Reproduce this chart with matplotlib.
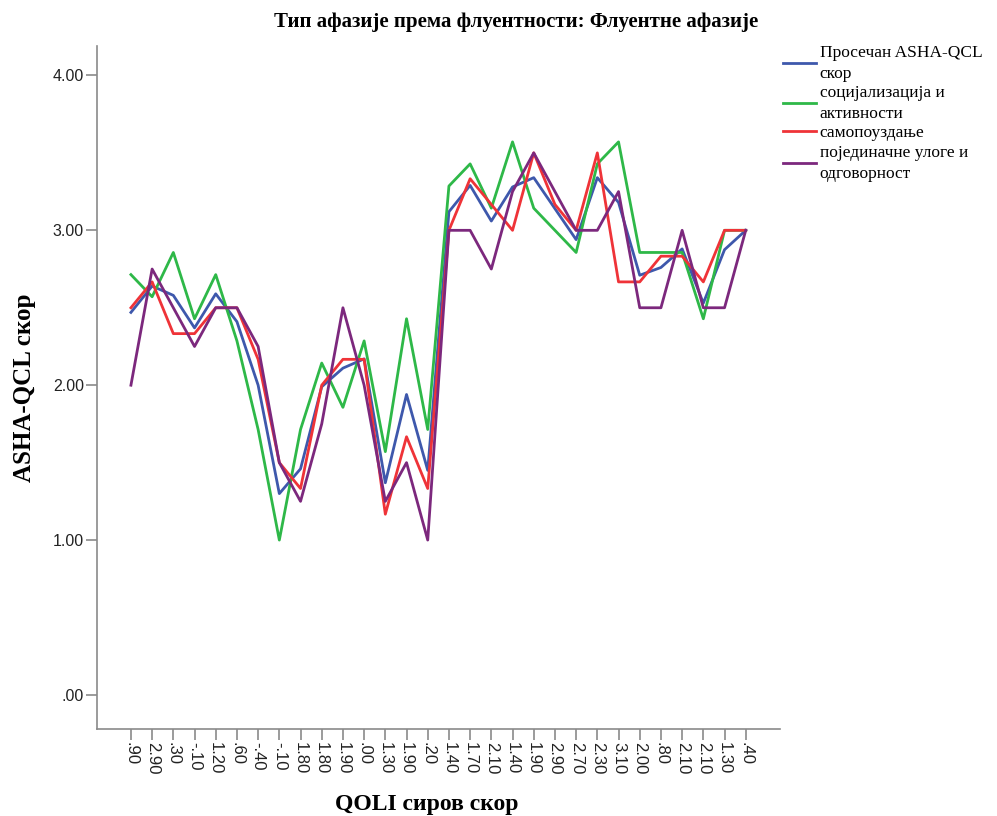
import matplotlib
matplotlib.use('Agg')
import matplotlib.pyplot as plt
from matplotlib.ticker import FuncFormatter

# QOLI raw score categories (x axis, in the order shown)
qoli_labels = ['.90', '2.90', '.30', '-.10', '1.20', '.60', '-.40', '-.10', '1.80', '1.80',
               '1.90', '.00', '1.30', '1.90', '.20', '1.40', '1.70', '2.10', '1.40', '1.90',
               '2.90', '2.70', '2.30', '3.10', '2.00', '.80', '2.10', '2.10', '1.30', '.40']

# ASHA-QCL scores
mean_score = [2.47, 2.64, 2.58, 2.37, 2.59, 2.41, 2.00, 1.30, 1.46, 1.99,
              2.11, 2.17, 1.37, 1.94, 1.45, 3.12, 3.29, 3.06, 3.28, 3.34,
              3.14, 2.94, 3.34, 3.18, 2.71, 2.76, 2.88, 2.53, 2.875, 3.00]
social = [2.714, 2.571, 2.857, 2.429, 2.714, 2.286, 1.714, 1.000, 1.714, 2.143,
          1.857, 2.286, 1.571, 2.429, 1.714, 3.286, 3.429, 3.143, 3.571, 3.143,
          3.000, 2.857, 3.429, 3.571, 2.857, 2.857, 2.857, 2.429, 3.000, 3.000]
confidence = [2.500, 2.667, 2.333, 2.333, 2.500, 2.500, 2.167, 1.500, 1.333, 2.000,
              2.167, 2.167, 1.167, 1.667, 1.333, 3.000, 3.333, 3.167, 3.000, 3.500,
              3.167, 3.000, 3.500, 2.667, 2.667, 2.833, 2.833, 2.667, 3.000, 3.000]
roles = [2.00, 2.75, 2.50, 2.25, 2.50, 2.50, 2.25, 1.50, 1.25, 1.75,
         2.50, 2.00, 1.25, 1.50, 1.00, 3.00, 3.00, 2.75, 3.25, 3.50,
         3.25, 3.00, 3.00, 3.25, 2.50, 2.50, 3.00, 2.50, 2.50, 3.00]

series_names = ['Просечан ASHA-QCL\nскор', 'социјализација и\nактивности',
                'самопоуздање', 'појединачне улоге и\nодговорност']
colors = ['#3E58AC', '#2EB848', '#EF3338', '#7C287D']

fig = plt.figure(figsize=(9.97, 8.16), dpi=100)
ax = fig.add_axes([0.0973, 0.1066, 0.6847, 0.837])

x = list(range(len(qoli_labels)))
for vals, name, col in zip([mean_score, social, confidence, roles], series_names, colors):
    ax.plot(x, vals, color=col, lw=2.0, label=name)

ax.set_xlim(-1.6, 30.6)
ax.set_ylim(-0.22, 4.19)
ax.set_yticks([0, 1, 2, 3, 4])
ax.yaxis.set_major_formatter(FuncFormatter(lambda v, p: f'{v:.2f}'.lstrip('0') if v < 1 else f'{v:.2f}'))
ax.set_xticks(x)
ax.set_xticklabels(qoli_labels, rotation=270, fontfamily='Liberation Sans', fontsize=12)
for lab in ax.get_yticklabels():
    lab.set_fontfamily('Liberation Sans')
    lab.set_fontsize(11.5)

for side in ['top', 'right']:
    ax.spines[side].set_visible(False)
for side in ['left', 'bottom']:
    ax.spines[side].set_color('#8a8a8a')
    ax.spines[side].set_linewidth(1.2)
ax.tick_params(axis='both', colors='#8a8a8a', labelcolor='#222222', length=8, width=1.2, pad=1.5)

ax.set_xlabel('QOLI сиров скор', fontfamily='Liberation Serif', fontweight='bold', fontsize=17)
ax.xaxis.set_label_coords(0.483, -0.095)
ax.set_ylabel('ASHA-QCL скор', fontfamily='Liberation Serif', fontweight='bold', fontsize=18, labelpad=12)
fig.text(0.518, 0.973, 'Тип афазије према флуентности: Флуентне афазије', ha='center', va='center',
         fontfamily='Liberation Serif', fontweight='bold', fontsize=15)

leg = ax.legend(loc='upper left', bbox_to_anchor=(0.995, 1.012), frameon=False,
                prop={'family': 'Liberation Serif', 'size': 12.5}, handlelength=1.9,
                handletextpad=0.2, labelspacing=0.2, borderaxespad=0)
for t in leg.get_texts():
    t.set_linespacing(1.4)

fig.savefig('out.png', dpi=100)
